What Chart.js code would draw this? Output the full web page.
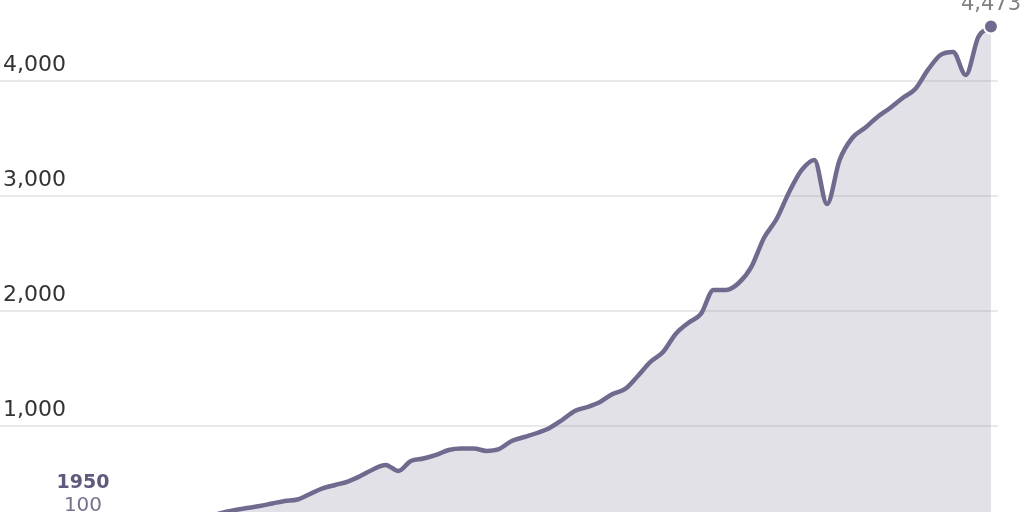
<!DOCTYPE html>
<html>
<head>
<meta charset="utf-8">
<script src="https://cdn.jsdelivr.net/npm/chart.js@4.4.1/dist/chart.umd.min.js"></script>
<style>
  html, body { margin: 0; padding: 0; background: #fff; }
  #wrap { width: 1024px; height: 512px; position: relative; }
</style>
</head>
<body>
<div id="wrap"><canvas id="chart"></canvas></div>
<script>
// ── Data ─────────────────────────────────────────────────────
const years = [
  1950, 1951, 1952, 1953, 1954, 1955, 1956, 1957, 1958, 1959,
  1960, 1961, 1962, 1963, 1964, 1965, 1966, 1967, 1968, 1969,
  1970, 1971, 1972, 1973, 1974, 1975, 1976, 1977, 1978, 1979,
  1980, 1981, 1982, 1983, 1984, 1985, 1986, 1987, 1988, 1989,
  1990, 1991, 1992, 1993, 1994, 1995, 1996, 1997, 1998, 1999,
  2000, 2001, 2002, 2003, 2004, 2005, 2006, 2007, 2008, 2009,
  2010, 2011, 2012, 2013, 2014, 2015, 2016, 2017, 2018, 2019,
  2020, 2021, 2022
];
const values = [
  100, 108, 115, 122, 128, 138, 149, 160, 170, 188,
  212, 245, 268, 287, 304, 326, 348, 361, 409, 457,
  487, 517, 565, 622, 661, 609, 696, 717, 748, 791,
  804, 804, 783, 800, 870, 904, 939, 983, 1052, 1130,
  1165, 1209, 1278, 1322, 1435, 1557, 1643, 1800, 1896, 1974,
  2183, 2183, 2243, 2383, 2635, 2800, 3035, 3226, 3313, 2930,
  3313, 3504, 3591, 3687, 3765, 3852, 3930, 4096, 4226, 4252,
  4052, 4383, 4473
];
const yTicks = [1000, 2000, 3000, 4000];

const LINE = '#706a8e';
const FONT = '"DejaVu Sans", sans-serif';

// ── End labels (first year / last value) ─────────────────────
const endLabels = {
  id: 'endLabels',
  afterDatasetsDraw(chart) {
    const { ctx, scales: { x, y }, chartArea } = chart;
    const first = years[0];
    const lastIdx = years.length - 1;
    ctx.save();
    ctx.textAlign = 'center';
    ctx.textBaseline = 'alphabetic';

    const fx = x.getPixelForValue(first);
    ctx.fillStyle = '#5f5a7c';
    ctx.font = `bold 19px ${FONT}`;
    ctx.fillText(String(first), fx, chartArea.bottom - 24);
    ctx.fillStyle = '#77738c';
    ctx.font = `20px ${FONT}`;
    ctx.fillText(values[0].toLocaleString('en-US'), fx, chartArea.bottom - 1);

    const lx = x.getPixelForValue(years[lastIdx]);
    const ly = y.getPixelForValue(values[lastIdx]);
    ctx.fillStyle = '#808080';
    ctx.font = `21px ${FONT}`;
    ctx.fillText(values[lastIdx].toLocaleString('en-US'), lx, ly - 17);
    ctx.restore();
  }
};

// ── Chart ────────────────────────────────────────────────────
new Chart(document.getElementById('chart'), {
  type: 'line',
  data: {
    datasets: [{
      data: years.map((yr, i) => ({ x: yr, y: values[i] })),
      borderColor: LINE,
      borderWidth: 4.5,
      backgroundColor: 'rgba(112, 106, 142, 0.2)',
      fill: 'start',
      cubicInterpolationMode: 'monotone',
      pointRadius: years.map((_, i) => i === years.length - 1 ? 7 : 0),
      pointBackgroundColor: LINE,
      pointBorderColor: '#fff',
      pointBorderWidth: 2,
      clip: false,
    }],
  },
  plugins: [endLabels],
  options: {
    responsive: true,
    maintainAspectRatio: false,
    animation: false,
    layout: { autoPadding: false, padding: { left: 0, right: 26, top: 0, bottom: 0 } },
    plugins: { legend: { display: false }, tooltip: { enabled: false } },
    scales: {
      x: {
        type: 'linear',
        display: false,
        min: 1943.42,
        max: 2022.56,
      },
      y: {
        min: 252,
        max: 4704,
        afterBuildTicks: scale => { scale.ticks = yTicks.map(v => ({ value: v })); },
        afterFit: scale => {
          // labels sit inside the plot, so the axis takes no room
          scale.width = 0;
          scale.paddingTop = 0;
          scale.paddingBottom = 0;
        },
        border: { display: false },
        grid: { color: 'rgba(0, 0, 0, 0.085)', lineWidth: 2, drawTicks: false, tickLength: 0 },
        ticks: {
          mirror: true,
          padding: 3,
          labelOffset: -16,
          color: '#333',
          font: { family: FONT, size: 22 },
          callback: v => v.toLocaleString('en-US'),
        },
      },
    },
  },
});
</script>
</body>
</html>
